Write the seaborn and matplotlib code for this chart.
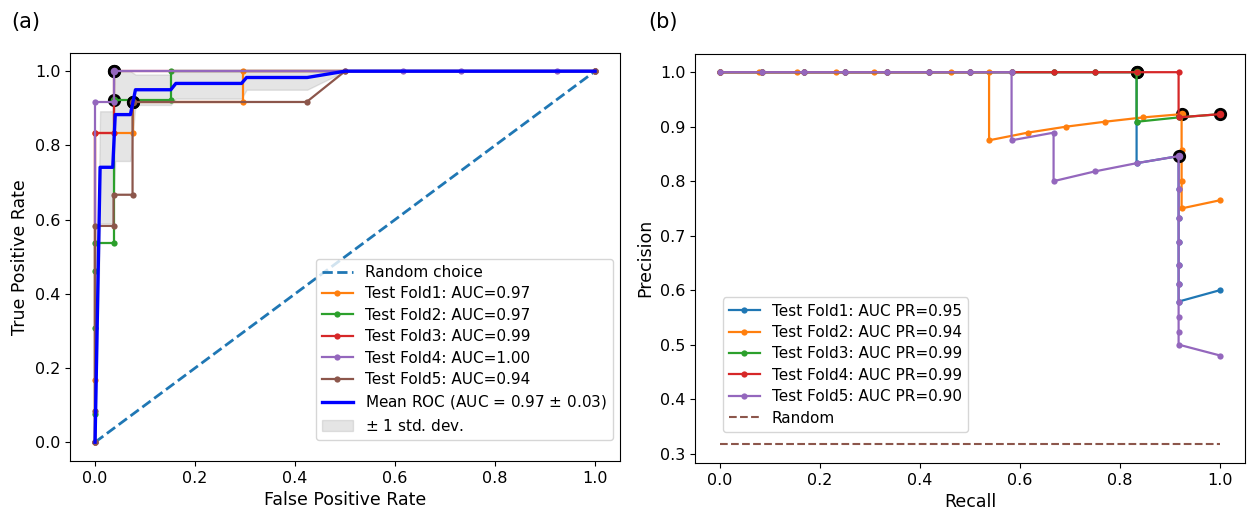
import numpy as np
import matplotlib
matplotlib.use("Agg")
import matplotlib.pyplot as plt
import seaborn as sns

# ---------------- data ----------------
fold_colors = ["C1", "C2", "C3", "C4", "C5"]
roc_labels = ["Test Fold1: AUC=0.97", "Test Fold2: AUC=0.97", "Test Fold3: AUC=0.99",
              "Test Fold4: AUC=1.00", "Test Fold5: AUC=0.94"]
roc_fpr = [
    [0, 0, 0, 0.075, 0.075, 0.296, 0.296, 1.0],
    [0, 0, 0, 0, 0, 0.037, 0.037, 0.152, 0.152, 1.0],
    [0, 0, 0.037, 0.037, 1.0],
    [0, 0, 0.037, 0.037, 0.5, 0.615, 0.731, 0.923, 1.0],
    [0, 0, 0, 0.037, 0.037, 0.075, 0.075, 0.423, 0.5, 1.0],
]
roc_tpr = [
    [0, 0.167, 0.833, 0.833, 0.917, 0.917, 1.0, 1.0],
    [0, 0.077, 0.308, 0.462, 0.538, 0.538, 0.923, 0.923, 1.0, 1.0],
    [0, 0.833, 0.833, 1.0, 1.0],
    [0, 0.917, 0.917, 1.0, 1.0, 1.0, 1.0, 1.0, 1.0],
    [0, 0.083, 0.583, 0.583, 0.667, 0.667, 0.917, 0.917, 1.0, 1.0],
]
roc_best_fpr = [0.075, 0.037, 0.037, 0.037, 0.075]
roc_best_tpr = [0.917, 0.923, 1.0, 1.0, 0.917]

mean_fpr = [0, 0.0101, 0.0354, 0.0404, 0.0707, 0.0808, 0.1515, 0.1616, 0.2929, 0.303, 0.4242, 0.5, 1.0]
mean_tpr = [0, 0.741, 0.741, 0.883, 0.883, 0.95, 0.95, 0.967, 0.967, 0.983, 0.983, 1.0, 1.0]
tpr_lower = [0, 0.59, 0.59, 0.758, 0.758, 0.909, 0.909, 0.926, 0.926, 0.95, 0.95, 1.0, 1.0]
tpr_upper = [0, 0.892, 0.892, 1.0, 1.0, 0.991, 0.991, 1.0, 1.0, 1.0, 1.0, 1.0, 1.0]

pr_colors = ["C0", "C1", "C2", "C3", "C4"]
pr_labels = ["Test Fold1: AUC PR=0.95", "Test Fold2: AUC PR=0.94", "Test Fold3: AUC PR=0.99",
             "Test Fold4: AUC PR=0.99", "Test Fold5: AUC PR=0.90"]
pr_recall = [
    [0, 0.083, 0.167, 0.25, 0.333, 0.417, 0.5, 0.583, 0.667, 0.75, 0.833, 0.833, 0.833,
     0.917, 0.917, 0.917, 0.917, 0.917, 0.917, 0.917, 1.0],
    [0, 0.077, 0.154, 0.231, 0.308, 0.462, 0.538, 0.538, 0.615, 0.692, 0.769, 0.846,
     0.923, 0.923, 0.923, 0.923, 1.0],
    [0, 0.083, 0.167, 0.25, 0.333, 0.417, 0.5, 0.583, 0.667, 0.75, 0.833, 0.833, 0.917, 1.0],
    [0, 0.083, 0.167, 0.25, 0.333, 0.417, 0.5, 0.583, 0.667, 0.75, 0.833, 0.917, 0.917, 1.0],
    [0, 0.083, 0.167, 0.25, 0.333, 0.417, 0.5, 0.583, 0.583, 0.667, 0.667, 0.75, 0.833,
     0.917, 0.917, 0.917, 0.917, 0.917, 0.917, 0.917, 0.917, 0.917, 0.917, 1.0],
]
pr_precision = [
    [1, 1, 1, 1, 1, 1, 1, 1, 1, 1, 1, 0.909, 0.833,
     0.846, 0.786, 0.733, 0.688, 0.647, 0.611, 0.579, 0.6],
    [1, 1, 1, 1, 1, 1, 1, 0.875, 0.889, 0.9, 0.909, 0.917,
     0.923, 0.857, 0.8, 0.75, 0.765],
    [1, 1, 1, 1, 1, 1, 1, 1, 1, 1, 1, 0.909, 0.917, 0.923],
    [1, 1, 1, 1, 1, 1, 1, 1, 1, 1, 1, 1, 0.917, 0.923],
    [1, 1, 1, 1, 1, 1, 1, 1, 0.875, 0.889, 0.8, 0.818, 0.833,
     0.846, 0.786, 0.733, 0.688, 0.647, 0.611, 0.579, 0.55, 0.524, 0.5, 0.48],
]
pr_best_recall = [0.833, 0.923, 0.833, 1.0, 0.917]
pr_best_precision = [1.0, 0.923, 1.0, 0.923, 0.846]
random_precision = 0.317

# ---------------- figure ----------------
fig = plt.figure(figsize=(12.53, 5.16), dpi=100)
ax1 = fig.add_axes([0.0559, 0.107, 0.439, 0.791])
ax2 = fig.add_axes([0.5547, 0.103, 0.439, 0.793])

TICK = 11.5
LAB = 12.5
LEG = 11

# (a) ROC
sns.lineplot(x=[0, 1], y=[0, 1], ax=ax1, color="C0", linestyle="--", lw=2,
             label="Random choice")
for i in range(5):
    # best-threshold marker first, the fold curve is drawn over it
    ax1.plot(roc_best_fpr[i], roc_best_tpr[i], "o", ms=7.5, mfc=fold_colors[i],
             mec="black", mew=2, label="_nolegend_")
    sns.lineplot(x=roc_fpr[i], y=roc_tpr[i], ax=ax1, sort=False, estimator=None,
                 color=fold_colors[i], marker="o", markersize=4.5, markeredgewidth=0,
                 lw=1.6, label=roc_labels[i])
sns.lineplot(x=mean_fpr, y=mean_tpr, ax=ax1, sort=False, estimator=None,
             color="b", lw=2.4, label="Mean ROC (AUC = 0.97 $\\pm$ 0.03)")
ax1.fill_between(mean_fpr, tpr_lower, tpr_upper, color="grey", alpha=0.2,
                 label="$\\pm$ 1 std. dev.")
ax1.set_xlim(-0.05, 1.05)
ax1.set_ylim(-0.05, 1.05)
ax1.set_xlabel("False Positive Rate", fontsize=LAB)
ax1.set_ylabel("True Positive Rate", fontsize=LAB)
ax1.tick_params(labelsize=TICK)
ax1.legend(loc="lower right", bbox_to_anchor=(0.987, 0.051), borderaxespad=0,
           fontsize=LEG, labelspacing=0.42)

# (b) PR
for i in range(5):
    ax2.plot(pr_best_recall[i], pr_best_precision[i], "o", ms=7.5, mfc=pr_colors[i],
             mec="black", mew=2, label="_nolegend_")
    sns.lineplot(x=pr_recall[i], y=pr_precision[i], ax=ax2, sort=False, estimator=None,
                 color=pr_colors[i], marker="o", markersize=4.5, markeredgewidth=0,
                 lw=1.6, label=pr_labels[i])
sns.lineplot(x=[0, 1], y=[random_precision, random_precision], ax=ax2, color="C5",
             linestyle="--", lw=1.5, label="Random")
ax2.set_xlim(-0.05, 1.05)
ax2.set_ylim(0.283, 1.034)
ax2.set_xlabel("Recall", fontsize=LAB)
ax2.set_ylabel("Precision", fontsize=LAB)
ax2.tick_params(labelsize=TICK)
ax2.legend(loc="lower left", bbox_to_anchor=(0.051, 0.076), borderaxespad=0,
           fontsize=LEG, labelspacing=0.42)

fig.text(0.009, 0.945, "(a)", fontsize=15)
fig.text(0.517, 0.945, "(b)", fontsize=15)

fig.savefig("out.png", dpi=100)
